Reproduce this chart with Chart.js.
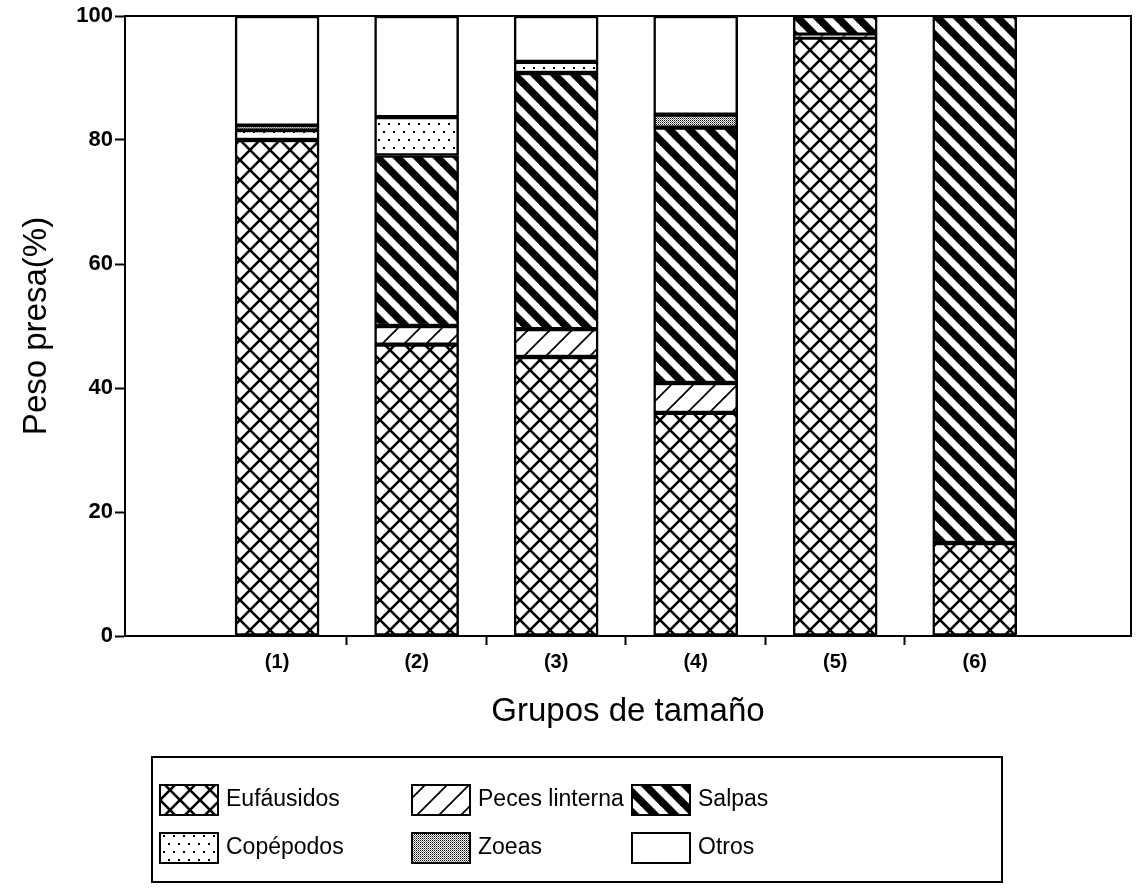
<!DOCTYPE html>
<html>
<head>
<meta charset="utf-8">
<script src="https://cdn.jsdelivr.net/npm/chart.js@4.4.1/dist/chart.umd.min.js"></script>
<style>
  html, body { margin: 0; padding: 0; background: #fff; }
</style>
</head>
<body>
<canvas id="chart" width="1137" height="894"></canvas>
<script>
// datos (% del peso de presas por grupo de tamaño)
const groups = ['(1)', '(2)', '(3)', '(4)', '(5)', '(6)'];
const eufausidos = [80, 47, 45, 36, 96.5, 15];
const pecesLinterna = [0, 3, 4.5, 4.8, 0.5, 0];
const salpas = [0, 27.5, 41.3, 41.2, 3, 85];
const copepodos = [1.6, 6.2, 1.8, 0, 0, 0];
const zoeas = [0.7, 0, 0, 2.1, 0, 0];
const otros = [17.7, 16.3, 7.4, 15.9, 0, 0];
const yTicks = [0, 20, 40, 60, 80, 100];

Chart.defaults.font.family = "'Liberation Sans', Arial, sans-serif";
Chart.defaults.color = '#000';

const canvas = document.getElementById('chart');
const ctx = canvas.getContext('2d');

// patrones de relleno
function makePattern(w, h, draw) {
  const c = document.createElement('canvas');
  c.width = w; c.height = h;
  const g = c.getContext('2d');
  g.fillStyle = '#fff';
  g.fillRect(0, 0, w, h);
  g.strokeStyle = '#000';
  g.fillStyle = '#000';
  draw(g, w, h);
  return ctx.createPattern(c, 'repeat');
}
// lineas diagonales largas para que el mosaico no tenga cortes
function diag(g, w, h, dir, lw) {
  g.lineWidth = lw;
  for (let k = -2; k <= 2; k++) {
    g.beginPath();
    if (dir > 0) { g.moveTo(k * w - w, 2 * h); g.lineTo(k * w + 2 * w, -h); }
    else { g.moveTo(k * w - w, -h); g.lineTo(k * w + 2 * w, 2 * h); }
    g.stroke();
  }
}
const crossPat = makePattern(20, 20, g => { diag(g, 20, 20, 1, 2.6); diag(g, 20, 20, -1, 2.6); });
const slashPat = makePattern(22, 22, g => diag(g, 22, 22, 1, 1.8));
const salpPat = makePattern(20, 20, g => diag(g, 20, 20, -1, 7.5));
const dotPat = makePattern(20, 16, g => {
  [[3, 3], [13, 3], [8, 11], [18, 11]].forEach(([x, y]) => g.fillRect(x, y, 2, 2));
});
const zoePat = makePattern(2, 2, g => { g.fillRect(0, 0, 1, 1); g.fillStyle = '#777'; g.fillRect(1, 1, 1, 1); });

const series = [
  { label: 'Eufáusidos', data: eufausidos, fill: crossPat },
  { label: 'Peces linterna', data: pecesLinterna, fill: slashPat },
  { label: 'Salpas', data: salpas, fill: salpPat },
  { label: 'Copépodos', data: copepodos, fill: dotPat },
  { label: 'Zoeas', data: zoeas, fill: zoePat },
  { label: 'Otros', data: otros, fill: '#fff' }
];

const datasets = series.map(s => ({
  label: s.label,
  data: s.data.map((v, i) => ({ x: i + 1, y: v })),
  backgroundColor: s.fill,
  borderColor: '#000',
  borderWidth: 2.5,
  borderSkipped: false,
  barThickness: 84
}));

// leyenda en cuadricula 3 x 2 con marco
const gridLegend = {
  id: 'gridLegend',
  afterDraw(chart, args, o) {
    const c = chart.ctx;
    c.save();
    c.lineWidth = 2;
    c.strokeStyle = '#000';
    c.strokeRect(o.left, o.top, o.width, o.height);
    c.font = o.size + "px 'Liberation Sans', Arial, sans-serif";
    c.textBaseline = 'middle';
    chart.data.datasets.forEach((ds, i) => {
      const x = o.colX[i % 3], y = o.rowY[Math.floor(i / 3)];
      c.fillStyle = ds.backgroundColor;
      c.fillRect(x, y - o.boxH / 2, o.boxW, o.boxH);
      c.strokeRect(x, y - o.boxH / 2, o.boxW, o.boxH);
      c.fillStyle = '#000';
      c.fillText(ds.label, x + o.boxW + 8, y);
    });
    c.restore();
  }
};

const xMin = -0.09, xMax = 7.12;

new Chart(ctx, {
  type: 'bar',
  data: { datasets },
  options: {
    responsive: false,
    animation: false,
    layout: { padding: { left: 0, right: 6, top: 16, bottom: 162 } },
    plugins: {
      legend: { display: false },
      tooltip: { enabled: false },
      gridLegend: {
        left: 152, top: 757, width: 850, height: 125,
        colX: [160, 412, 632], rowY: [800, 848],
        boxW: 58, boxH: 30, size: 23
      }
    },
    scales: {
      x: {
        type: 'linear', position: 'bottom', stacked: true, offset: false,
        min: xMin, max: xMax,
        afterBuildTicks: s => { s.ticks = groups.map((g, i) => ({ value: i + 1 })); },
        afterFit: s => { s.height = 96; },
        ticks: {
          callback: v => groups[v - 1],
          font: { size: 20, weight: 'bold' },
          padding: 5, maxRotation: 0, autoSkip: false
        },
        grid: {
          offset: true, drawOnChartArea: false, tickLength: 9, tickWidth: 2,
          tickColor: c => (c.index === undefined || c.index === 0) ? 'rgba(0,0,0,0)' : '#000'
        },
        border: { color: '#000', width: 2 },
        title: { display: true, text: 'Grupos de tamaño', font: { size: 33 }, padding: 0 }
      },
      x2: {
        type: 'linear', position: 'top', min: xMin, max: xMax,
        ticks: { display: false },
        grid: { drawOnChartArea: false, drawTicks: false },
        border: { color: '#000', width: 2 },
        afterFit: s => { s.height = 0; }
      },
      y: {
        stacked: true, min: 0, max: 100,
        afterBuildTicks: s => { s.ticks = yTicks.map(v => ({ value: v })); },
        afterFit: s => { s.width = 125; },
        ticks: { font: { size: 22, weight: 'bold' }, padding: 2 },
        grid: { drawOnChartArea: false, tickLength: 10, tickWidth: 2, tickColor: '#000' },
        border: { color: '#000', width: 2 },
        title: { display: true, text: 'Peso presa(%)', font: { size: 33 }, padding: { top: 17, bottom: 0 } }
      },
      y2: {
        position: 'right', min: 0, max: 100,
        ticks: { display: false },
        grid: { drawOnChartArea: false, drawTicks: false },
        border: { color: '#000', width: 2 },
        afterFit: s => { s.width = 0; }
      }
    }
  },
  plugins: [gridLegend]
});
</script>
</body>
</html>
